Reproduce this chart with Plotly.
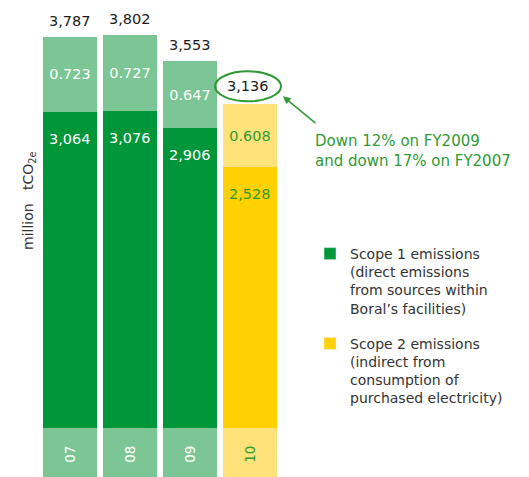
import plotly.graph_objects as go

# ---- data ----
years = ["07", "08", "09", "10"]
scope1 = [3.064, 3.076, 2.906, 2.528]
scope2 = [0.723, 0.727, 0.647, 0.608]
totals = ["3,787", "3,802", "3,553", "3,136"]
scope1_labels = ["3,064", "3,076", "2,906", "2,528"]
scope2_labels = ["0.723", "0.727", "0.647", "0.608"]
legend_names = [
    "Scope 1 emissions<br>(direct emissions<br>from sources within<br>Boral’s facilities)",
    "Scope 2 emissions<br>(indirect from<br>consumption of<br>purchased electricity)",
]
note_text = "Down 12% on FY2009<br>and down 17% on FY2007"

# ---- styles ----
FONT = "DejaVu Sans"
DG, LG = "#00963a", "#7cc594"
DY, LY = "#ffd100", "#ffe27a"
GTXT = "#2f9a35"
dark_cols = [DG, DG, DG, DY]
light_cols = [LG, LG, LG, LY]
txt_cols = ["white", "white", "white", GTXT]
BAND = 0.5
sums = [a + b for a, b in zip(scope1, scope2)]

fig = go.Figure()
fig.add_trace(go.Bar(x=years, y=scope1, marker=dict(color=dark_cols, line_width=0),
                     showlegend=False, hoverinfo="skip"))
fig.add_trace(go.Bar(x=years, y=scope2, marker=dict(color=light_cols, line_width=0),
                     text=scope2_labels, textposition="inside", insidetextanchor="middle",
                     textfont=dict(family=FONT, size=14.5, color=txt_cols),
                     constraintext="none", showlegend=False, hoverinfo="skip"))
# year band under bars
fig.add_trace(go.Bar(x=years, y=[BAND] * 4, base=[-BAND] * 4,
                     marker=dict(color=light_cols, line_width=0),
                     text=years, textposition="inside", insidetextanchor="middle",
                     textangle=-90, textfont=dict(family=FONT, size=13.5, color=txt_cols),
                     constraintext="none", showlegend=False, hoverinfo="skip"))
# legend entries
for name, col, grp in zip(legend_names, [DG, DY], ["a", "b"]):
    fig.add_trace(go.Bar(x=[years[0]], y=[None], name=name, marker=dict(color=col),
                         legendgroup=grp))

ann = []
for i in range(len(years)):
    # scope 1 labels
    ann.append(dict(x=i, y=scope1[i], text=scope1_labels[i], showarrow=False,
                    yanchor="middle", yshift=-27,
                    font=dict(family=FONT, size=14.5, color=txt_cols[i])))
    if i < 3:
        ann.append(dict(x=i, y=sums[i], text=totals[i], showarrow=False,
                        yanchor="bottom", yshift=6,
                        font=dict(family=FONT, size=14.5, color="#1a1a1a")))
    else:
        ann.append(dict(x=i, y=sums[i], text=totals[i], showarrow=False,
                        yanchor="middle", yshift=18, xshift=-2,
                        font=dict(family=FONT, size=14.5, color="#1a1a1a")))
        ann.append(dict(x=i, y=sums[i], text="", showarrow=True, xshift=33, yshift=8,
                        ax=34, ay=28, arrowhead=2, arrowsize=1, arrowwidth=1.5,
                        arrowcolor=GTXT))

ann.append(dict(xref="paper", yref="paper", x=313 / 529, y=1 - 130 / 477,
                xanchor="left", yanchor="top", align="left", text=note_text,
                showarrow=False, font=dict(family=FONT, size=15, color=GTXT)))
ann.append(dict(xref="paper", yref="paper", x=18 / 529, y=1 - 201 / 477,
                text="million\u00a0\u00a0\u00a0tCO<sub>2e</sub>", textangle=-90,
                showarrow=False, font=dict(family=FONT, size=14, color="#333333")))

fig.add_shape(type="circle", xref="x", yref="y", xsizemode="pixel", ysizemode="pixel",
              xanchor=3, yanchor=sums[3], x0=-35, x1=31, y0=3, y1=33,
              line=dict(color=GTXT, width=2))

fig.update_layout(
    width=529, height=477, margin=dict(l=0, r=0, t=0, b=0),
    paper_bgcolor="white", plot_bgcolor="white",
    barmode="stack", bargap=0.088,
    xaxis=dict(visible=False, range=[-70 / 60, 459 / 60], type="category",
               categoryarray=years),
    yaxis=dict(visible=False, range=[-48.7 / 103.3, 428.3 / 103.3]),
    legend=dict(x=310 / 529, y=1 - 238 / 477, xanchor="left", yanchor="top",
                valign="top", traceorder="grouped", tracegroupgap=14,
                font=dict(family=FONT, size=14, color="#333333"),
                bgcolor="rgba(0,0,0,0)"),
    annotations=ann,
    showlegend=True,
)
fig.write_html("out.html")
